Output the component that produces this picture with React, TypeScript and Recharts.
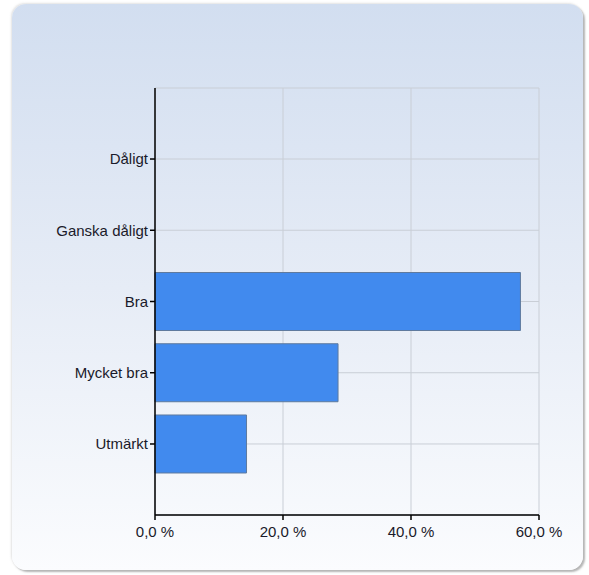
import React from 'react';
import { BarChart, Bar, XAxis, YAxis, CartesianGrid } from 'recharts';

const categories = ['Dåligt', 'Ganska dåligt', 'Bra', 'Mycket bra', 'Utmärkt'];
const percentValues = [0, 0, 57.1, 28.6, 14.3];
const xTicks = [0, 20, 40, 60];

const data = categories.map((name, i) => ({ name, value: percentValues[i] }));

const fmt = (v: number) => v.toFixed(1).replace('.', ',') + ' %';

export default function App() {
  return (
    <div style={{ position: 'absolute', left: 0, top: 0, width: 589, height: 575, background: '#ffffff', fontFamily: '"Liberation Sans", Arial, sans-serif' }}>
      <div
        style={{
          position: 'absolute',
          left: 12,
          top: 4,
          width: 571,
          height: 566,
          borderRadius: 14,
          background: 'linear-gradient(to bottom, #d2def0 0%, #e6ecf6 50%, #fbfcfe 100%)',
          boxShadow: '2px 2px 2px rgba(120,120,120,0.55), -1px -1px 2px rgba(200,200,200,0.5)',
        }}
      />
      <div style={{ position: 'absolute', left: 0, top: 0 }}>
        <BarChart
          width={589}
          height={575}
          data={data}
          layout="vertical"
          margin={{ top: 88, right: 50, bottom: 30, left: 45 }}
          barCategoryGap="9.3%"
        >
          <CartesianGrid stroke="#c9ced6" strokeWidth={1} />
          <XAxis
            type="number"
            domain={[0, 60]}
            ticks={xTicks}
            tickFormatter={fmt}
            axisLine={{ stroke: '#000', strokeWidth: 1.5 }}
            tickLine={{ stroke: '#000', strokeWidth: 1.5 }}
            tickSize={5}
            tickMargin={6}
            tick={{ fill: '#1a1a2a', fontSize: 15 }}
            height={30}
            interval={0}
          />
          <XAxis
            xAxisId="top"
            orientation="top"
            type="number"
            domain={[0, 60]}
            tick={false}
            tickLine={false}
            axisLine={{ stroke: '#c9ced6' }}
            height={0}
          />
          <YAxis
            type="category"
            dataKey="name"
            width={110}
            padding={{ top: 35.4, bottom: 35.4 }}
            axisLine={{ stroke: '#000', strokeWidth: 1.5 }}
            tickLine={{ stroke: '#000', strokeWidth: 1.5 }}
            tickSize={5}
            tick={{ fill: '#1a1a2a', fontSize: 15 }}
            interval={0}
          />
          <Bar dataKey="value" fill="#418aee" stroke="#5f7a9e" strokeWidth={1} isAnimationActive={false} />
        </BarChart>
      </div>
    </div>
  );
}
